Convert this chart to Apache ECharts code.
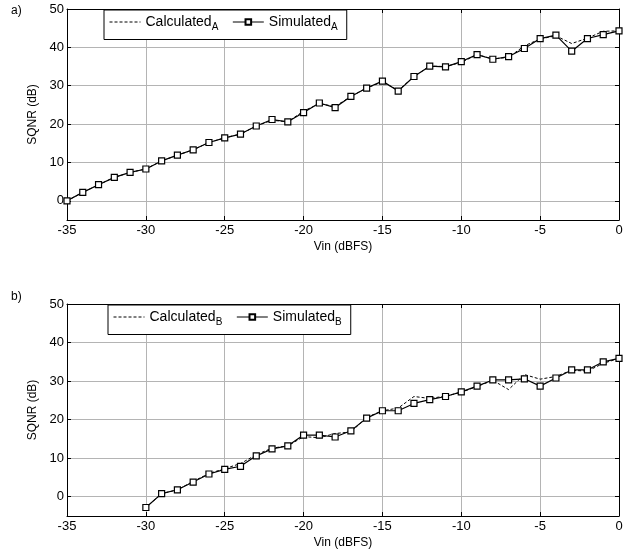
<!DOCTYPE html>
<html>
<head>
<meta charset="utf-8">
<script src="https://cdn.jsdelivr.net/npm/echarts@6/dist/echarts.min.js"></script>
<style>
  html, body { margin: 0; padding: 0; background: #fff; }
  #chart { width: 641px; height: 554px; }
</style>
</head>
<body>
<div id="chart"></div>
<script>
// input level (dBFS)
var vinA = [-35, -34, -33, -32, -31, -30, -29, -28, -27, -26, -25, -24, -23, -22, -21, -20, -19, -18,
            -17, -16, -15, -14, -13, -12, -11, -10, -9, -8, -7, -6, -5, -4, -3, -2, -1, 0];
var simA = [0, 2.2, 4.2, 6.1, 7.4, 8.3, 10.4, 11.9, 13.3, 15.2, 16.4, 17.4, 19.5, 21.2, 20.6, 23.0, 25.5, 24.3,
            27.2, 29.4, 31.2, 28.6, 32.4, 35.1, 34.9, 36.3, 38.1, 36.9, 37.6, 39.7, 42.3, 43.2, 39.0, 42.3, 43.3, 44.3];
var calcA = [0, 2.2, 4.2, 6.1, 7.4, 8.3, 10.4, 11.9, 13.3, 15.2, 16.4, 17.4, 19.5, 21.0, 20.6, 23.4, 25.3, 24.6,
             27.2, 29.4, 31.0, 28.8, 32.4, 35.1, 35.0, 36.1, 38.1, 37.0, 37.4, 40.4, 42.2, 43.0, 41.0, 42.4, 44.2, 44.3];

var vinB = [-30, -29, -28, -27, -26, -25, -24, -23, -22, -21, -20, -19, -18,
            -17, -16, -15, -14, -13, -12, -11, -10, -9, -8, -7, -6, -5, -4, -3, -2, -1, 0];
var simB = [-2.8, 0.8, 1.8, 3.8, 5.9, 7.1, 7.9, 10.6, 12.4, 13.2, 16.0, 16.0, 15.5,
            17.1, 20.4, 22.3, 22.3, 24.2, 25.2, 26.0, 27.2, 28.7, 30.3, 30.3, 30.6, 28.7, 30.8, 32.9, 32.9, 35.0, 35.9];
var calcB = [-2.8, 0.8, 1.8, 4.0, 6.0, 7.3, 8.6, 10.9, 12.6, 13.2, 15.6, 15.3, 16.4,
             16.8, 20.6, 22.3, 23.0, 26.0, 25.5, 26.1, 27.1, 28.6, 30.2, 27.8, 31.7, 30.5, 31.2, 32.8, 32.6, 34.6, 35.9];

var yTicks = [0, 10, 20, 30, 40, 50];

function pairs(xs, ys) {
  return xs.map(function (x, i) { return [x, ys[i]]; });
}

var font = 'Liberation Sans, Arial, sans-serif';
var chart = echarts.init(document.getElementById('chart'));

var grids = [
  { left: 67, right: 22, top: 9, height: 211 },
  { left: 67, right: 22, top: 304, height: 212 }
];

var xAxes = [];
var yAxes = [];
[0, 1].forEach(function (g) {
  // bottom x axis with labels
  xAxes.push({
    type: 'value', gridIndex: g, min: -35, max: 0, interval: 5,
    name: 'Vin (dBFS)', nameLocation: 'middle', nameGap: 21,
    nameTextStyle: { color: '#000', fontFamily: font, fontSize: 12 },
    axisLine: { onZero: false, lineStyle: { color: '#000', width: 1 } },
    axisTick: { inside: true, length: 4, lineStyle: { color: '#000' } },
    axisLabel: { color: '#000', fontFamily: font, fontSize: 13, margin: 4 },
    splitLine: { show: true, lineStyle: { color: '#b4b4b4', width: 1 } }
  });
  // top x axis (ticks only)
  xAxes.push({
    type: 'value', gridIndex: g, position: 'top', min: -35, max: 0, interval: 5,
    axisLine: { onZero: false, lineStyle: { color: '#000', width: 1 } },
    axisTick: { inside: true, length: 4, lineStyle: { color: '#000' } },
    axisLabel: { show: false },
    splitLine: { show: false }
  });
  yAxes.push({
    type: 'value', gridIndex: g, min: -5, max: 50,
    name: 'SQNR (dB)', nameLocation: 'middle', nameGap: 27,
    nameTextStyle: { color: '#000', fontFamily: font, fontSize: 12 },
    axisLine: { show: true, onZero: false, lineStyle: { color: '#000', width: 1 } },
    axisTick: { show: true, inside: true, length: 4, customValues: yTicks, lineStyle: { color: '#000' } },
    axisLabel: { color: '#000', fontFamily: font, fontSize: 13, margin: 3, customValues: yTicks },
    splitLine: { show: true, lineStyle: { color: '#b4b4b4', width: 1 } }
  });
  yAxes.push({
    type: 'value', gridIndex: g, position: 'right', min: -5, max: 50,
    axisLine: { show: true, onZero: false, lineStyle: { color: '#000', width: 1 } },
    axisTick: { show: true, inside: true, length: 4, customValues: yTicks, lineStyle: { color: '#000' } },
    axisLabel: { show: false },
    splitLine: { show: false }
  });
});

function legendFor(g, names, top) {
  return {
    data: [
      { name: names[0], itemStyle: { opacity: 0 } },
      { name: names[1] }
    ],
    left: 104 + g * 4, top: top,
    orient: 'horizontal',
    backgroundColor: '#fff',
    borderColor: '#000', borderWidth: 1, borderRadius: 0,
    padding: [5, 9, 7, 5],
    itemWidth: 31, itemHeight: 7, itemGap: 14,
    lineStyle: { width: 1 },
    formatter: function (name) {
      return '{m|' + name.slice(0, -1) + '}{s|' + name.slice(-1) + '}';
    },
    textStyle: {
      color: '#000', fontFamily: font, fontSize: 14,
      rich: {
        m: { fontFamily: font, fontSize: 14, color: '#000' },
        s: { fontFamily: font, fontSize: 10, color: '#000', verticalAlign: 'bottom', padding: [11, 0, 0, 0] }
      }
    }
  };
}

function calcSeries(name, g, xs, ys) {
  return {
    name: name, type: 'line', xAxisIndex: g * 2, yAxisIndex: g * 2,
    data: pairs(xs, ys), symbol: 'none', silent: true,
    lineStyle: { color: '#000', width: 1, type: [3, 2] },
    itemStyle: { color: '#000' }, z: 2
  };
}
function simSeries(name, g, xs, ys) {
  return {
    name: name, type: 'line', xAxisIndex: g * 2, yAxisIndex: g * 2,
    data: pairs(xs, ys), symbol: 'rect', symbolSize: 6, showAllSymbol: true, silent: true,
    lineStyle: { color: '#000', width: 1.2 },
    itemStyle: { color: '#fff', borderColor: '#000', borderWidth: 1.2 }, z: 3
  };
}

chart.setOption({
  animation: false,
  backgroundColor: '#fff',
  title: [
    { text: 'a)', left: 6, top: 0, textStyle: { color: '#000', fontFamily: font, fontSize: 12, fontWeight: 'normal' } },
    { text: 'b)', left: 6, top: 286, textStyle: { color: '#000', fontFamily: font, fontSize: 12, fontWeight: 'normal' } }
  ],
  grid: grids,
  xAxis: xAxes,
  yAxis: yAxes,
  legend: [
    legendFor(0, ['CalculatedA', 'SimulatedA'], 10),
    legendFor(1, ['CalculatedB', 'SimulatedB'], 305)
  ],
  series: [
    calcSeries('CalculatedA', 0, vinA, calcA),
    simSeries('SimulatedA', 0, vinA, simA),
    calcSeries('CalculatedB', 1, vinB, calcB),
    simSeries('SimulatedB', 1, vinB, simB)
  ]
});
</script>
</body>
</html>
